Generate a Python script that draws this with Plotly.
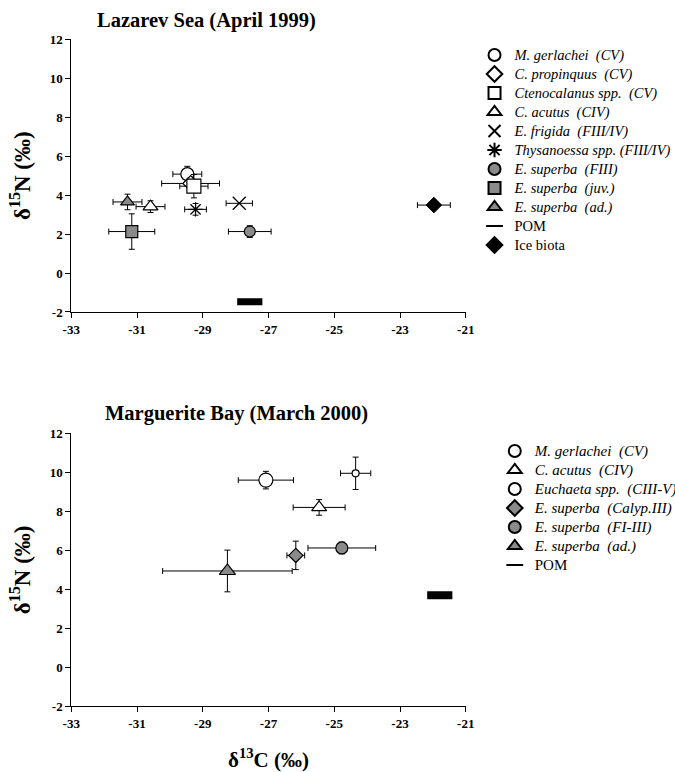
import plotly.graph_objects as go

# ---------------- data: Lazarev Sea (April 1999) ----------------
names_top = ["<i>M. gerlachei  (CV)</i>", "<i>C. propinquus  (CV)</i>", "<i>Ctenocalanus spp.  (CV)</i>",
             "<i>C. acutus  (CIV)</i>", "<i>E. frigida  (FIII/IV)</i>", "<i>Thysanoessa spp. (FIII/IV)</i>",
             "<i>E. superba  (FIII)</i>", "<i>E. superba  (juv.)</i>", "<i>E. superba  (ad.)</i>",
             "POM", "Ice biota"]
d13c_top = [-29.47, -29.37, -29.27, -30.59, -27.89, -29.22, -27.57, -31.16, -31.29, -27.57, -21.97]
d15n_top = [5.08, 4.60, 4.46, 3.41, 3.58, 3.27, 2.13, 2.13, 3.65, -1.48, 3.49]
d13c_sd_top = [0.44, 0.88, 0.43, 0.44, 0.40, 0.33, 0.65, 0.70, 0.44, 0.0, 0.50]
d15n_sd_top = [0.40, 0.30, 0.60, 0.30, 0.00, 0.30, 0.30, 0.91, 0.40, 0.0, 0.10]

# ---------------- data: Marguerite Bay (March 2000) ----------------
names_bot = ["<i>M. gerlachei  (CV)</i>", "<i>C. acutus  (CIV)</i>", "<i>Euchaeta spp.  (CIII-V)</i>",
             "<i>E. superba  (Calyp.III)</i>", "<i>E. superba  (FI-III)</i>", "<i>E. superba  (ad.)</i>", "POM"]
d13c_bot = [-27.08, -25.46, -24.35, -26.17, -24.77, -28.25, -21.79]
d15n_bot = [9.60, 8.20, 9.95, 5.74, 6.12, 4.94, 3.70]
d13c_sd_bot = [0.84, 0.79, 0.46, 0.27, 1.03, 1.97, 0.0]
d15n_sd_bot = [0.45, 0.40, 0.83, 0.73, 0.30, 1.07, 0.0]

x_ticks = [-33, -31, -29, -27, -25, -23, -21]
x_ticklabels = ["-33", "-31", "-29", "-27", "-25", "-23", "-21"]
y_ticks = [-2, 0, 2, 4, 6, 8, 10, 12]
y_ticklabels = ["-2", "0", "2", "4", "6", "8", "10", "12"]

# ---------------- styles ----------------
GREY = "#8a8a8a"
style_top = [
    dict(symbol="circle", size=13, color="white", lw=1.2),
    dict(symbol="diamond", size=12, color="white", lw=1.2),
    dict(symbol="square", size=14, color="white", lw=1.2),
    dict(symbol="triangle-up", size=13, color="white", lw=1.2),
    dict(symbol="x-thin-open", size=13, color="black", lw=1.3),
    dict(symbol="asterisk-open", size=12, color="black", lw=1.3),
    dict(symbol="circle", size=11, color=GREY, lw=1.2),
    dict(symbol="square", size=12, color=GREY, lw=1.2),
    dict(symbol="triangle-up", size=12, color=GREY, lw=1.2),
    dict(symbol="line-ew", size=18, color="black", lw=7),
    dict(symbol="diamond", size=12, color="black", lw=1),
]
style_bot = [
    dict(symbol="circle", size=14, color="white", lw=1.2),
    dict(symbol="triangle-up", size=13, color="white", lw=1.2),
    dict(symbol="circle", size=7, color="white", lw=1.2),
    dict(symbol="diamond", size=11, color=GREY, lw=1.2),
    dict(symbol="circle", size=12, color=GREY, lw=1.2),
    dict(symbol="triangle-up", size=14, color=GREY, lw=1.2),
    dict(symbol="line-ew", size=18, color="black", lw=8),
]

SERIF = "Liberation Serif"

fig = go.Figure()


def legend_label(n, px):
    return '<span style="font-size:%spx">' % px + n + "</span>"


def add_panel(names, xs, ys, xe, ye, styles, xa, ya, legend, px):
    for n, x, y, ex, ey, st in zip(names, xs, ys, xe, ye, styles):
        fig.add_trace(go.Scatter(
            x=[x], y=[y], name=legend_label(n, px), mode="markers",
            xaxis=xa, yaxis=ya, legend=legend,
            marker=dict(symbol=st["symbol"], size=st["size"], color=st["color"],
                        line=dict(color="black", width=st["lw"])),
            error_x=dict(type="data", array=[ex], visible=ex > 0, color="black",
                         thickness=1, width=3),
            error_y=dict(type="data", array=[ey], visible=ey > 0, color="black",
                         thickness=1, width=3),
            showlegend=True,
        ))


add_panel(names_top, d13c_top, d15n_top, d13c_sd_top, d15n_sd_top, style_top, "x", "y", "legend", 14.5)
add_panel(names_bot, d13c_bot, d15n_bot, d13c_sd_bot, d15n_sd_bot, style_bot, "x2", "y2", "legend2", 15)

tickfont = dict(family=SERIF, size=13, color="black", weight="bold")
xcommon = dict(range=[-33, -21], tickvals=x_ticks, ticktext=x_ticklabels, showline=True,
               linecolor="black", linewidth=1, ticks="outside", ticklen=5, tickcolor="black",
               tickfont=tickfont, showgrid=False, zeroline=False, domain=[0.1056, 0.690])
ycommon = dict(range=[-2, 12], tickvals=y_ticks, ticktext=y_ticklabels, showline=True,
               linecolor="black", linewidth=1, ticks="outside", ticklen=5, tickcolor="black",
               tickfont=tickfont, showgrid=False, zeroline=False)
ytitle = dict(text="δ<sup>15</sup>N (‰)", font=dict(family=SERIF, size=23, color="black", weight="bold"),
              standoff=12)

legfont = dict(family=SERIF, size=12, color="black")

fig.update_layout(
    width=675, height=772,
    margin=dict(l=0, r=0, t=0, b=0, autoexpand=False),
    paper_bgcolor="white", plot_bgcolor="white",
    xaxis=dict(**xcommon, anchor="y"),
    yaxis=dict(**ycommon, anchor="x", domain=[0.5959, 0.949], title=ytitle),
    xaxis2=dict(**xcommon, anchor="y2",
                title=dict(text="δ<sup>13</sup>C (‰)",
                           font=dict(family=SERIF, size=21, color="black", weight="bold"),
                           standoff=26)),
    yaxis2=dict(**ycommon, anchor="x2", domain=[0.0851, 0.4387], title=ytitle),
    legend=dict(x=0.703, y=1 - 150 / 772, xanchor="left", yanchor="middle", font=legfont,
                bgcolor="rgba(0,0,0,0)", itemsizing="constant", tracegroupgap=0),
    legend2=dict(x=0.733, y=1 - 508 / 772, xanchor="left", yanchor="middle", font=legfont,
                 bgcolor="rgba(0,0,0,0)", itemsizing="constant", tracegroupgap=0),
    annotations=[
        dict(text="<b>Lazarev Sea (April 1999)</b>", x=207 / 675, y=1 - 21 / 772, xref="paper", yref="paper",
             xanchor="center", yanchor="middle", showarrow=False,
             font=dict(family=SERIF, size=20.5, color="black")),
        dict(text="<b>Marguerite Bay (March 2000)</b>", x=236 / 675, y=1 - 413 / 772, xref="paper",
             yref="paper", xanchor="center", yanchor="middle", showarrow=False,
             font=dict(family=SERIF, size=20.5, color="black")),
    ],
)

fig.write_html("out.html")
